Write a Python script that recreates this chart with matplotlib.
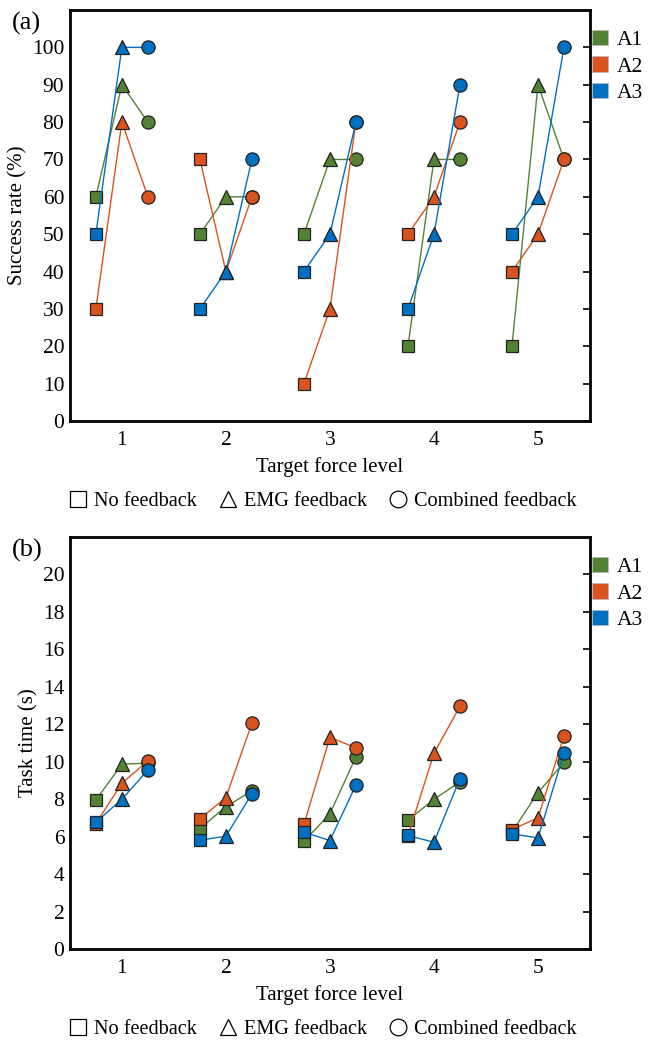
import matplotlib.pyplot as plt
from matplotlib.lines import Line2D
from matplotlib.patches import Patch
import numpy as np

plt.rcParams['font.family'] = ['Liberation Serif', 'DejaVu Serif']

levels = [1, 2, 3, 4, 5]
groups = ['A1', 'A2', 'A3']
colours = ['#548235', '#D9531E', '#0070C0']
conditions = ['No feedback', 'EMG feedback', 'Combined feedback']
markers = ['s', '^', 'o']

# success rate (%), per group: [level][no fb, EMG fb, combined fb]
success_a1 = [[60, 90, 80], [50, 60, 60], [50, 70, 70], [20, 70, 70], [20, 90, 70]]
success_a2 = [[30, 80, 60], [70, 40, 60], [10, 30, 80], [50, 60, 80], [40, 50, 70]]
success_a3 = [[50, 100, 100], [30, 40, 70], [40, 50, 80], [30, 50, 90], [50, 60, 100]]

# task time (s)
time_a1 = [[7.95, 9.87, 9.92], [6.43, 7.6, 8.44], [5.75, 7.22, 10.26], [6.88, 7.99, 8.92], [6.25, 8.35, 9.96]]
time_a2 = [[6.7, 8.85, 10.04], [6.95, 8.08, 12.06], [6.65, 11.3, 10.74], [6.05, 10.44, 12.96], [6.38, 7.0, 11.38]]
time_a3 = [[6.77, 7.99, 9.56], [5.81, 6.02, 8.29], [6.24, 5.79, 8.76], [6.06, 5.70, 9.1], [6.15, 5.93, 10.46]]

offsets = [-0.25, 0, 0.25]

fig = plt.figure(figsize=(6.53, 10.4), dpi=100)
ax1 = fig.add_axes([0.107, 0.5952, 0.7965, 0.3952])
ax2 = fig.add_axes([0.107, 0.0875, 0.7965, 0.3962])


def draw(ax, series, ymax, yticks, ylabel, tag):
    for g, data in enumerate(series):
        for i, lev in enumerate(levels):
            xs = [lev + o for o in offsets]
            ax.plot(xs, data[i], '-', color=colours[g], lw=1.0, zorder=2 + g)
            for k in range(3):
                ax.plot(xs[k], data[i][k], marker=markers[k], ms=9 if k == 0 else 9.5,
                        mfc=colours[g], mec='#222222', mew=0.9, ls='none', zorder=2 + g)
    ax.set_xlim(0.5, 5.5)
    ax.set_ylim(0, ymax)
    ax.set_xticks(levels)
    ax.set_yticks(yticks)
    ax.tick_params(axis='x', length=0, labelsize=15.5, pad=7)
    ax.tick_params(axis='y', direction='in', length=5, width=1.2, labelsize=15.5,
                   right=True, left=False, pad=4)
    for s in ax.spines.values():
        s.set_linewidth(2)
    ax.set_xlabel('Target force level', fontsize=15, labelpad=5)
    ax.set_ylabel(ylabel, fontsize=15, labelpad=3)
    pos = ax.get_position()
    fig.text(12 / 653, pos.y1 - 0.002, tag, fontsize=19, va='top', ha='left')

    handles = [Patch(facecolor=c, edgecolor='#bbbbbb', lw=0.5) for c in colours]
    ax.legend(handles, groups, loc='upper left', bbox_to_anchor=(1.004, 0.952),
              frameon=False, fontsize=15.5, handlelength=0.72, handleheight=0.72,
              handletextpad=0.45, labelspacing=0.3, borderaxespad=0, borderpad=0)

    shapes = [Line2D([], [], marker=m, ls='none', mfc='white', mec='black', mew=0.9, ms=12)
              for m in markers]
    fig.legend(shapes, conditions, loc='center',
               bbox_to_anchor=(0.495, pos.y0 - 0.0775),
               ncol=3, frameon=False, fontsize=14.6, handlelength=0.8,
               handletextpad=0.4, columnspacing=1.1)


draw(ax1, [success_a1, success_a2, success_a3], 110, np.arange(0, 101, 10),
     'Success rate (%)', '(a)')
draw(ax2, [time_a1, time_a2, time_a3], 22, np.arange(0, 21, 2),
     'Task time (s)', '(b)')

fig.savefig('out.png', dpi=100)
